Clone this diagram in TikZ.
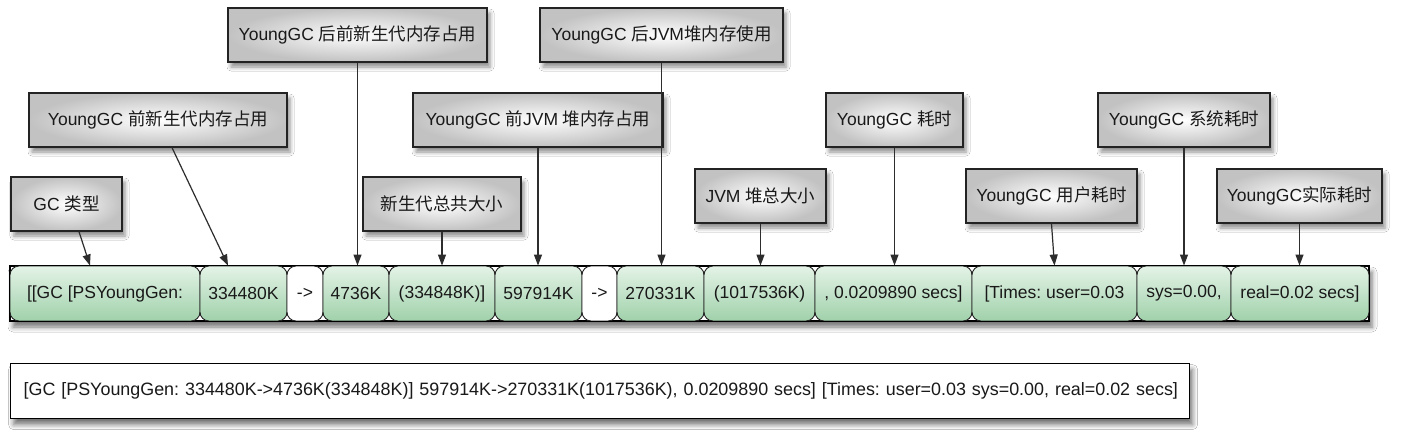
\documentclass[tikz,border=0pt]{standalone}
\usepackage{fontspec}
\setmainfont{Liberation Sans}
\newfontfamily\cjkfont{Noto Sans CJK SC}
\newcommand{\zhtxt}[1]{{\cjkfont #1}}
\usetikzlibrary{arrows.meta,shadows.blur,calc}
\definecolor{segtop}{RGB}{228,243,231}
\definecolor{segbot}{RGB}{160,209,170}
\definecolor{edgec}{RGB}{35,35,35}
\definecolor{linec}{RGB}{45,45,45}
\definecolor{txtc}{RGB}{25,25,25}
\tikzset{
  lblbox/.style={draw=edgec, line width=1.2pt, inner sep=0pt, minimum height=54pt,
    inner color=white, outer color=black!24,
    blur shadow={shadow xshift=3pt, shadow yshift=-5pt, shadow blur radius=4pt, shadow opacity=45},
    font=\fontsize{17.5}{20}\selectfont, text=txtc},
  segbox/.style={draw=edgec, line width=0.9pt, rounded corners=9pt, inner sep=0pt,
    minimum height=55pt, top color=segtop, bottom color=segbot,
    font=\fontsize{17.5}{20}\selectfont, text=txtc},
  segwhite/.style={draw=edgec, line width=0.9pt, rounded corners=9pt, inner sep=0pt,
    minimum height=55pt, fill=white,
    font=\fontsize{17.5}{20}\selectfont, text=txtc},
  conn/.style={draw=linec, line width=1.2pt, -{Triangle[length=11pt,width=8pt]}}
}
\begin{document}
\frenchspacing
\begin{tikzpicture}[x=1pt,y=-1pt]
\useasboundingbox (0,0) rectangle (1428,447);
\fill[white] (0,0) rectangle (1428,447);

% label boxes
\node[lblbox, minimum width=111pt] (L1) at (66.5,204) {GC \zhtxt{类型}};
\node[lblbox, minimum width=258pt] (L2) at (158,120) {YoungGC \zhtxt{前新生代内存占用}};
\node[lblbox, minimum width=259pt] (L3) at (357.5,35) {YoungGC \zhtxt{后前新生代内存占用}};
\node[lblbox, minimum width=158pt] (L4) at (442,204) {\zhtxt{新生代总共大小}};
\node[lblbox, minimum width=250pt] (L5) at (538,120) {YoungGC \zhtxt{前}JVM \zhtxt{堆内存占用}};
\node[lblbox, minimum width=243pt] (L6) at (661.5,35) {YoungGC \zhtxt{后}JVM\zhtxt{堆内存使用}};
\node[lblbox, minimum width=131pt] (L7) at (760.5,196) {JVM \zhtxt{堆总大小}};
\node[lblbox, minimum width=137pt] (L8) at (894.5,120) {YoungGC \zhtxt{耗时}};
\node[lblbox, minimum width=171pt] (L9) at (1051.5,196) {YoungGC \zhtxt{用户耗时}};
\node[lblbox, minimum width=172pt] (L10) at (1184,120) {YoungGC \zhtxt{系统耗时}};
\node[lblbox, minimum width=165pt] (L11) at (1299.5,196) {YoungGC\zhtxt{实际耗时}};

% row frame
\node[draw=black, line width=1.3pt, fill=white, inner sep=0pt, minimum width=1359pt, minimum height=55pt,
  blur shadow={shadow xshift=3pt, shadow yshift=-6pt, shadow blur radius=5pt, shadow opacity=55}] (row) at (689.5,293.5) {};

% row segments
\node[segbox, minimum width=190pt] (S1) at (105,293.5) {[[GC [PSYoungGen:};
\node[segbox, minimum width=87pt] (S2) at (243.5,293.5) {334480K};
\node[segwhite, minimum width=36pt] (S3) at (305,293.5) {->};
\node[segbox, minimum width=66pt] (S4) at (356,293.5) {4736K};
\node[segbox, minimum width=106pt] (S5) at (442,293.5) {(334848K)]};
\node[segbox, minimum width=87pt] (S6) at (538.5,293.5) {597914K};
\node[segwhite, minimum width=35pt] (S7) at (599.5,293.5) {->};
\node[segbox, minimum width=87pt] (S8) at (660.5,293.5) {270331K};
\node[segbox, minimum width=111pt] (S9) at (759.5,293.5) {(1017536K)};
\node[segbox, minimum width=157pt] (S10) at (893.5,293.5) {, 0.0209890 secs]};
\node[segbox, minimum width=165pt] (S11) at (1054.5,293.5) {[Times: user=0.03};
\node[segbox, minimum width=94pt] (S12) at (1184,293.5) {sys=0.00,};
\node[segbox, minimum width=138pt] (S13) at (1300,293.5) {real=0.02 secs]};
\draw[black, line width=1.3pt] (row.north west) rectangle (row.south east);

% connectors
\draw[conn] ($(L1.south)+(12.5,0)$) -- ($(S1.north)+(-15,0)$);
\draw[conn] ($(L2.south)+(14,0)$) -- ($(S2.north)+(-15.5,0)$);
\draw[conn] (L3.south) -- (L3.south |- S4.north);
\draw[conn] (L4.south) -- (L4.south |- S5.north);
\draw[conn] (L5.south) -- (L5.south |- S6.north);
\draw[conn] (L6.south) -- (L6.south |- S8.north);
\draw[conn] (L7.south) -- (L7.south |- S9.north);
\draw[conn] (L8.south) -- (L8.south |- S10.north);
\draw[conn] (L9.south) -- (S11.north);
\draw[conn] (L10.south) -- (L10.south |- S12.north);
\draw[conn] (L11.south) -- (L11.south |- S13.north);

% full log line
\node[draw=black, line width=1.2pt, fill=white, inner xsep=13pt, inner ysep=0pt, anchor=north west,
  minimum height=55pt, text width=1153pt, align=left, font=\fontsize{17.9}{20}\selectfont, text=txtc,
  blur shadow={shadow xshift=3pt, shadow yshift=-6pt, shadow blur radius=5pt, shadow opacity=55}] (log) at (10,363)
  {\mbox{[GC [PSYoungGen: 334480K->4736K(334848K)] 597914K->270331K(1017536K), 0.0209890 secs] [Times: user=0.03 sys=0.00, real=0.02 secs]}};
\end{tikzpicture}
\end{document}
